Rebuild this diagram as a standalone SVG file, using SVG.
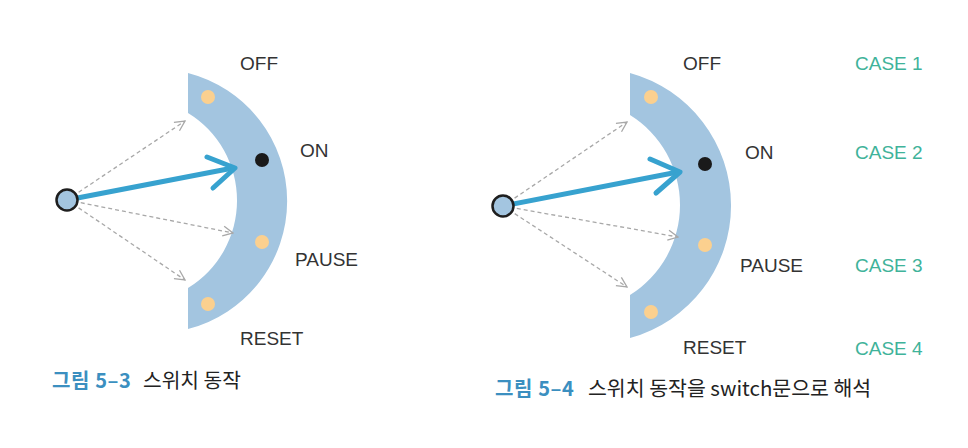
<svg xmlns="http://www.w3.org/2000/svg" width="968" height="448" viewBox="0 0 968 448">
<style>
.band{fill:#a3c5e0}
.dot{fill:#fbd08f}
.on{fill:#1a1a1a}
.pivot{fill:#a3c5e0;stroke:#1e1e1e;stroke-width:2.5}
.dash{stroke:#a8a8a8;stroke-width:1.3;stroke-dasharray:4 3;fill:none}
.main{stroke:#37a2cf;stroke-width:5;fill:none;stroke-linecap:round;stroke-linejoin:round}
.lbl{font-family:"Liberation Sans",Arial,sans-serif;font-size:19px;fill:#333}
.case{font-family:"Liberation Sans",Arial,sans-serif;font-size:19px;fill:#3fb39a}
.cap{font-family:"Noto Sans CJK KR","Noto Sans",sans-serif;font-size:20.3px;fill:#222}
.capn{font-family:"Noto Sans CJK KR","Noto Sans",sans-serif;font-size:20px;font-weight:bold;fill:#3b8fc0;letter-spacing:0.6px}
</style>
<defs>
<marker id="ah" viewBox="0 0 12 12" refX="11" refY="6" markerWidth="12" markerHeight="12" markerUnits="userSpaceOnUse" orient="auto">
<path d="M1,1 L11,6 L1,11" fill="none" stroke="#a8a8a8" stroke-width="1.3"/>
</marker>
</defs>

<g id="switch1">
<path class="band" d="M188,73 A132.2,132.2 0 0 1 188,329 L188,288 A102.6,102.6 0 0 0 188,113 Z"/>
<circle class="dot" cx="208" cy="97" r="7"/>
<circle class="on" cx="262" cy="160" r="7"/>
<circle class="dot" cx="262" cy="242" r="7"/>
<circle class="dot" cx="208" cy="304" r="7"/>
</g>
<g id="labels1">
<text class="lbl" x="240" y="70">OFF</text>
<text class="lbl" x="300" y="157">ON</text>
<text class="lbl" x="295" y="266">PAUSE</text>
<text class="lbl" x="240" y="345">RESET</text>
</g>

<g id="switch2">
<path class="band" d="M630,73 A137.4,137.4 0 0 1 630,338 L630,295 A106,106 0 0 0 630,115 Z"/>
<circle class="dot" cx="651" cy="97" r="7"/>
<circle class="on" cx="705" cy="164" r="7"/>
<circle class="dot" cx="705" cy="245" r="7"/>
<circle class="dot" cx="651" cy="312" r="7"/>
</g>
<g id="labels2">
<text class="lbl" x="683" y="70">OFF</text>
<text class="lbl" x="745" y="159">ON</text>
<text class="lbl" x="740" y="272">PAUSE</text>
<text class="lbl" x="683" y="354">RESET</text>
</g>
<g id="cases">
<text class="case" x="855" y="70">CASE 1</text>
<text class="case" x="855" y="159">CASE 2</text>
<text class="case" x="855" y="272">CASE 3</text>
<text class="case" x="855" y="355">CASE 4</text>
</g>

<g id="connectors">
<line class="dash" x1="67" y1="200" x2="185" y2="121" marker-end="url(#ah)"/>
<line class="dash" x1="67" y1="200" x2="233" y2="233" marker-end="url(#ah)"/>
<line class="dash" x1="67" y1="200" x2="185" y2="280" marker-end="url(#ah)"/>
<line class="main" x1="67" y1="200" x2="233" y2="168"/>
<path class="main" d="M207,157 L235,168 L213,188"/>

<line class="dash" x1="503" y1="206" x2="627" y2="122" marker-end="url(#ah)"/>
<line class="dash" x1="503" y1="206" x2="678" y2="237" marker-end="url(#ah)"/>
<line class="dash" x1="503" y1="206" x2="627" y2="287" marker-end="url(#ah)"/>
<line class="main" x1="503" y1="206" x2="678" y2="172"/>
<path class="main" d="M650,159 L680,172 L656,193"/>
</g>

<g id="pivot1"><circle class="pivot" cx="67" cy="200" r="10.5"/></g>
<g id="pivot2"><circle class="pivot" cx="503" cy="206" r="10.5"/></g>

<g id="caption1">
<text class="capn" x="52" y="388">그림 5–3</text>
<text class="cap" x="143" y="388">스위치 동작</text>
</g>
<g id="caption2">
<text class="capn" x="495" y="396">그림 5–4</text>
<text class="cap" x="588" y="396" style="font-size:20.5px">스위치 동작을 switch문으로 해석</text>
</g>
</svg>
